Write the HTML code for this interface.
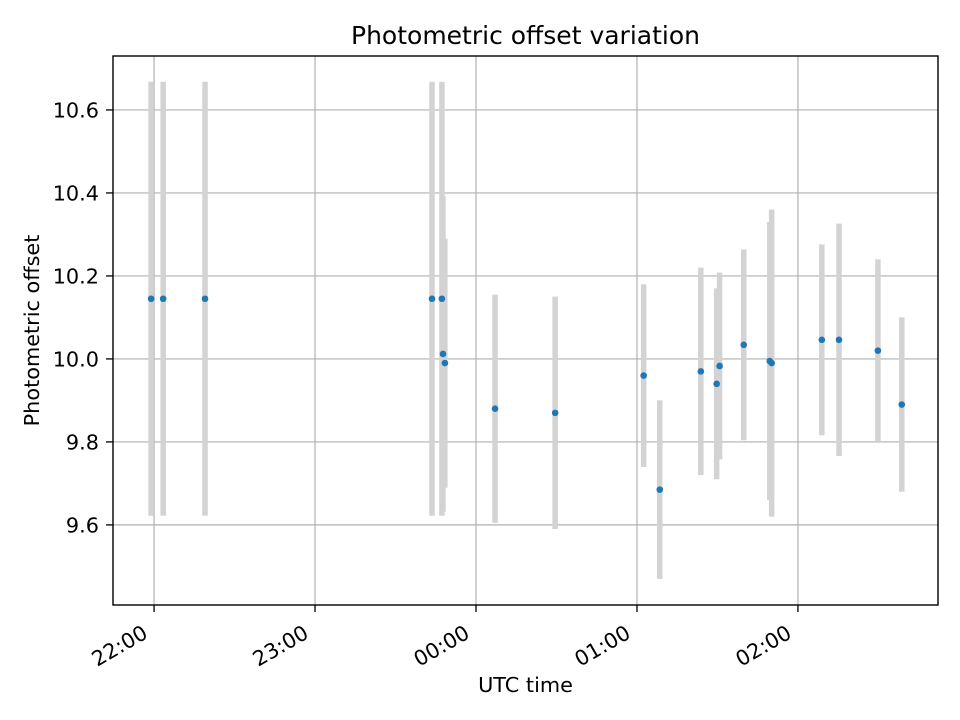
<!DOCTYPE html>
<html><head><meta charset="utf-8"><style>body{margin:0;background:#fff}svg{display:block;font-family:"DejaVu Sans","Liberation Sans",sans-serif}</style></head>
<body>
<svg id="c" width="960" height="720" xmlns="http://www.w3.org/2000/svg"></svg>
<script>
// minutes after 22:00 UTC
const times = [-1.1, 3.4, 19.0, 103.6, 107.3, 107.7, 108.4, 127.1, 149.5, 182.5, 188.5, 203.8, 209.7, 210.8, 219.8, 229.5, 230.2, 248.9, 255.3, 269.8, 278.7];
const offsets = [10.145, 10.145, 10.145, 10.145, 10.145, 10.012, 9.99, 9.88, 9.87, 9.96, 9.685, 9.97, 9.94, 9.983, 10.034, 9.995, 9.99, 10.046, 10.046, 10.02, 9.89];
const errors = [0.523, 0.523, 0.523, 0.523, 0.523, 0.38, 0.3, 0.275, 0.28, 0.22, 0.215, 0.25, 0.23, 0.225, 0.23, 0.335, 0.37, 0.23, 0.28, 0.22, 0.21];
const xTickVals = [0, 60, 120, 180, 240];
const xTickLabels = ["22:00", "23:00", "00:00", "01:00", "02:00"];
const yTickVals = [9.6, 9.8, 10.0, 10.2, 10.4, 10.6];
const yTickLabels = ["9.6", "9.8", "10.0", "10.2", "10.4", "10.6"];

const L=113,R=938,T=56,B=605;
const xMin=-15.3,xMax=292.2,yMin=9.407,yMax=10.730;
const sx=v=>L+(v-xMin)/(xMax-xMin)*(R-L);
const sy=v=>B-(v-yMin)/(yMax-yMin)*(B-T);
const svg=document.getElementById('c');
const NS='http://www.w3.org/2000/svg';
function mk(tag,attrs,parent){const e=document.createElementNS(NS,tag);for(const k in attrs)e.setAttribute(k,attrs[k]);(parent||svg).appendChild(e);return e;}

const grid=mk('g',{});


xTickVals.forEach(v=>{const l=mk('line',{x1:sx(v),x2:sx(v),y1:T,y2:B,stroke:'#b0b0b0','stroke-width':1.2},grid);

});
yTickVals.forEach(v=>{const l=mk('line',{x1:L,x2:R,y1:sy(v),y2:sy(v),stroke:'#b0b0b0','stroke-width':1.2},grid);

});

const bars=mk('g',{});


times.forEach((t,i)=>{const l=mk('line',{x1:sx(t),x2:sx(t),y1:sy(offsets[i]+errors[i]),y2:sy(offsets[i]-errors[i]),stroke:'#d3d3d3','stroke-width':5.5},bars);

});
const pts=mk('g',{});


times.forEach((t,i)=>{const c=mk('circle',{cx:sx(t),cy:sy(offsets[i]),r:3.3,fill:'#1f77b4'},pts);

});

const frame=mk('rect',{x:L,y:T,width:R-L,height:B-T,fill:'none',stroke:'#000','stroke-width':1.4});



xTickVals.forEach((v,i)=>{const x=sx(v);
const tk=mk('line',{x1:x,x2:x,y1:B,y2:B+7,stroke:'#000','stroke-width':1.3});


const px=x-5,py=B+32;
const tx=mk('text',{x:px,y:py,'font-size':20.8,'text-anchor':'end',transform:`rotate(-30 ${px} ${py})`});
tx.textContent=xTickLabels[i];

});
yTickVals.forEach((v,i)=>{const y=sy(v);
const tk=mk('line',{x1:L-7,x2:L,y1:y,y2:y,stroke:'#000','stroke-width':1.3});


const tx=mk('text',{x:L-14,y:y+7.5,'font-size':20.8,'text-anchor':'end'});
tx.textContent=yTickLabels[i];

});

const title=mk('text',{x:(L+R)/2,y:44,'font-size':25,'text-anchor':'middle'});
title.textContent='Photometric offset variation';


const xt=mk('text',{x:(L+R)/2,y:692,'font-size':20.8,'text-anchor':'middle'});
xt.textContent='UTC time';


const yt=mk('text',{x:39,y:(T+B)/2-0,'font-size':20.8,'text-anchor':'middle',transform:`rotate(-90 39 ${(T+B)/2})`});
yt.textContent='Photometric offset';


</script>
</body></html>
